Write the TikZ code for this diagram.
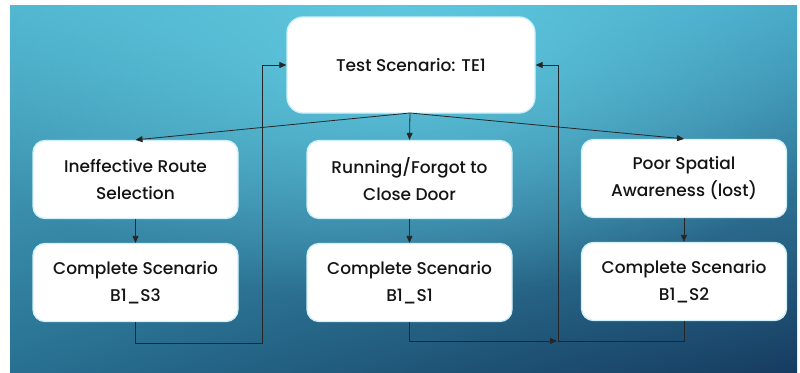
\documentclass[tikz,border=0pt]{standalone}
\usepackage{fontspec}
\setmainfont{Poppins}[UprightFont=* Medium]
\usetikzlibrary{arrows.meta,shadings,fadings}
\definecolor{bgUL}{RGB}{80,180,206}
\definecolor{bgUR}{RGB}{70,166,198}
\definecolor{bgLL}{RGB}{40,112,145}
\definecolor{bgLR}{RGB}{22,60,96}
\definecolor{bgHi}{RGB}{98,204,226}
\definecolor{glow}{RGB}{205,240,250}
\definecolor{ink}{RGB}{20,20,20}
\tikzfading[name=softglow, inner color=transparent!0, outer color=transparent!100]
\tikzset{
  card/.style={draw=glow, line width=1.3pt, fill=white, rounded corners=12pt,
    align=center, text=ink, font=\fontsize{17}{27}\selectfont,
    minimum width=205pt, minimum height=78pt, inner sep=0pt},
  topcard/.style={card, rounded corners=16pt, minimum width=248pt, minimum height=96pt},
  link/.style={draw=black!85, line width=0.8pt},
  arr/.style={link, -{Triangle[length=7pt,width=6pt]}}
}
\begin{document}
\begin{tikzpicture}[x=1pt,y=-1pt]
  \useasboundingbox (0,0) rectangle (800,372);
  % gradient backdrop
  \shade[upper left=bgUL, upper right=bgUR, lower left=bgLL, lower right=bgLR]
    (10,5) rectangle (797,372);
  \begin{scope}
    \clip (10,5) rectangle (797,372);
    \fill[bgHi, path fading=softglow, fit fading=true, fill opacity=0.9]
      (400,40) ellipse [x radius=480, y radius=260];
  \end{scope}

  % boxes
  \node[topcard] (top) at (411,65) {Test Scenario: TE1};
  \node[card] (l1) at (135.5,179.5) {Ineffective Route\\Selection};
  \node[card] (m1) at (409.5,179.5) {Running/Forgot to\\Close Door};
  \node[card] (r1) at (684,178.5) {Poor Spatial\\Awareness (lost)};
  \node[card] (l2) at (135.5,282.5) {Complete Scenario\\B1\_S3};
  \node[card] (m2) at (409.5,282.5) {Complete Scenario\\B1\_S1};
  \node[card] (r2) at (684,281.5) {Complete Scenario\\B1\_S2};

  % fan-out from the test scenario
  \coordinate (fan) at (410,113);
  \draw[arr] (fan) -- (l1.north);
  \draw[arr] (fan) -- (m1.north);
  \draw[arr] (fan) -- (r1.north);

  % each cause leads to its scenario
  \draw[arr] (l1.south) -- (l2.north);
  \draw[arr] (m1.south) -- (m2.north);
  \draw[arr] (r1.south) -- (r2.north);

  % return paths to the test scenario
  \coordinate (lj) at (262,343);
  \coordinate (rj) at (558,341);
  \draw[arr] (l2.south) |- (lj) |- (top.west);
  \draw[arr] (m2.south) |- ([xshift=-1pt]rj);
  \draw[arr] (r2.south) |- (rj) |- (top.east);
\end{tikzpicture}
\end{document}
